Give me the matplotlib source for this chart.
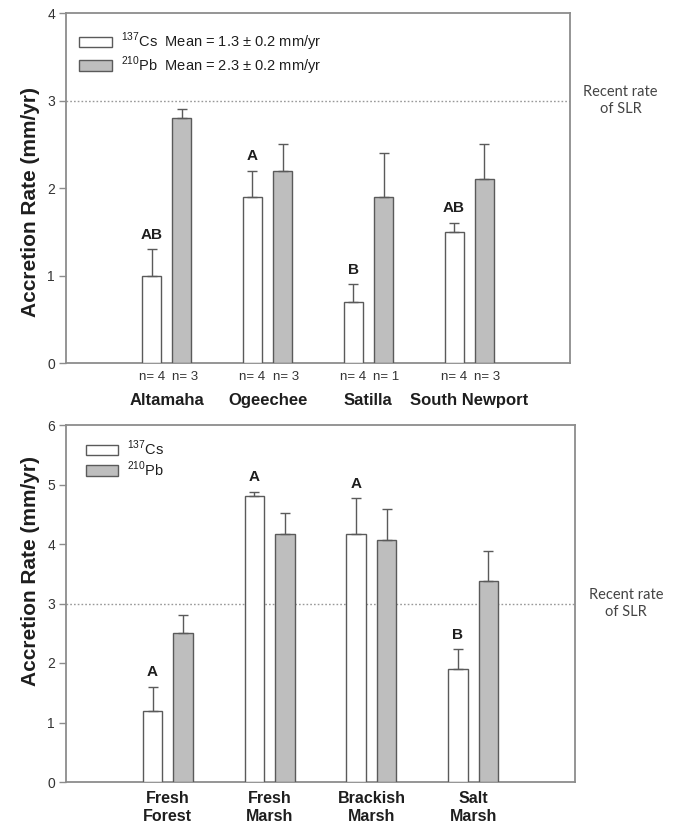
import matplotlib
matplotlib.use("Agg")
import matplotlib.pyplot as plt
import numpy as np
from matplotlib.patches import Patch

plt.rcParams['font.family'] = ['Liberation Sans', 'DejaVu Sans']
plt.rcParams['mathtext.fontset'] = 'custom'
plt.rcParams['mathtext.rm'] = 'Liberation Sans'

# ---- Top panel data ----
rivers = ["Altamaha", "Ogeechee", "Satilla", "South Newport"]
cs_top = [1.0, 1.9, 0.7, 1.5]
cs_top_err = [0.3, 0.3, 0.2, 0.1]
pb_top = [2.8, 2.2, 1.9, 2.1]
pb_top_err = [0.1, 0.3, 0.5, 0.4]
cs_top_letters = ["AB", "A", "B", "AB"]
n_cs = [4, 4, 4, 4]
n_pb = [3, 3, 1, 3]

# ---- Bottom panel data ----
habitats = ["Fresh\nForest", "Fresh\nMarsh", "Brackish\nMarsh", "Salt\nMarsh"]
cs_bot = [1.2, 4.8, 4.17, 1.9]
cs_bot_err = [0.4, 0.08, 0.6, 0.33]
pb_bot = [2.5, 4.17, 4.07, 3.37]
pb_bot_err = [0.31, 0.35, 0.52, 0.51]
cs_bot_letters = ["A", "A", "A", "B"]

slr_rate = 3.0

EDGE = "#5a5a5a"
GREY = "#bebebe"
SPINE = "#8c8c8c"
TXT = "#1e1e1e"

fig = plt.figure(figsize=(6.75, 8.24), dpi=100)
ax1 = fig.add_axes([66/675, 1-363/824, 504/675, 350/824])
ax2 = fig.add_axes([66/675, 1-782/824, 509/675, 357/824])

W = 0.19
OFF = 0.15


def draw(ax, cs, cse, pb, pbe, letters, ymax, label_y):
    x = np.arange(len(cs))
    ax.bar(x - OFF, cs, W, color="white", edgecolor=EDGE, linewidth=1.0, zorder=3)
    ax.bar(x + OFF, pb, W, color=GREY, edgecolor=EDGE, linewidth=1.0, zorder=3)
    ax.errorbar(x - OFF, cs, yerr=[np.zeros(len(cs)), cse], fmt="none",
                ecolor=EDGE, elinewidth=1.0, capsize=3.6, capthick=1.0, zorder=4)
    ax.errorbar(x + OFF, pb, yerr=[np.zeros(len(pb)), pbe], fmt="none",
                ecolor=EDGE, elinewidth=1.0, capsize=3.6, capthick=1.0, zorder=4)
    for xi, v, e, l in zip(x, cs, cse, letters):
        ax.annotate(l, (xi - OFF, v + e), xytext=(0, 5.5), textcoords="offset points",
                    ha="center", va="bottom", fontsize=11, fontweight="bold", color=TXT)
    ax.axhline(slr_rate, color="#999999", linestyle=(0, (1.2, 1.5)), linewidth=1.0, zorder=2)
    ax.set_xlim(-1, 4)
    ax.set_ylim(0, ymax)
    ax.set_yticks(range(ymax + 1))
    ax.set_xticks([])
    for s in ax.spines.values():
        s.set_color(SPINE)
        s.set_linewidth(1.3)
    ax.tick_params(axis="y", direction="out", length=5, width=1, color=SPINE,
                   labelsize=10, labelcolor="#333333", pad=3)
    ax.set_ylabel("Accretion Rate (mm/yr)", fontsize=15, fontweight="bold", color=TXT)
    ax.yaxis.set_label_coords(-0.052, label_y)
    ax.text(1.1, (slr_rate) / ymax, "Recent rate\nof SLR", transform=ax.transAxes,
            ha="center", va="center", fontsize=10.5, color="#444444",
            family=["Lato", "DejaVu Sans"], linespacing=1.3)
    return x


x1 = draw(ax1, cs_top, cs_top_err, pb_top, pb_top_err, cs_top_letters, 4, 0.46)
x2 = draw(ax2, cs_bot, cs_bot_err, pb_bot, pb_bot_err, cs_bot_letters, 6, 0.59)

# top x labels
for xi, nc, npb, name in zip(x1, n_cs, n_pb, rivers):
    ax1.annotate(f"n= {nc}", (xi - OFF, 0), xytext=(0, -10), textcoords="offset points",
                 ha="center", va="center", fontsize=9.5, color="#333333", annotation_clip=False)
    ax1.annotate(f"n= {npb}", (xi + OFF + 0.03, 0), xytext=(0, -10), textcoords="offset points",
                 ha="center", va="center", fontsize=9.5, color="#333333", annotation_clip=False)
    ax1.annotate(name, (xi, 0), xytext=(0, -27), textcoords="offset points",
                 ha="center", va="center", fontsize=12, fontweight="bold", color=TXT,
                 annotation_clip=False)

for xi, name in zip(x2, habitats):
    ax2.annotate(name, (xi, 0), xytext=(0, -18.5), textcoords="offset points",
                 ha="center", va="center", fontsize=11.5, fontweight="bold", color=TXT,
                 annotation_clip=False, linespacing=1.2)

# legends
h_cs = Patch(facecolor="white", edgecolor=EDGE, linewidth=1.0)
h_pb = Patch(facecolor=GREY, edgecolor=EDGE, linewidth=1.0)
leg1 = ax1.legend([h_cs, h_pb],
                  [r"$^{137}$Cs  Mean = 1.3 $\pm$ 0.2 mm/yr",
                   r"$^{210}$Pb  Mean = 2.3 $\pm$ 0.2 mm/yr"],
                  loc="upper left", bbox_to_anchor=(0.008, 0.975), frameon=False,
                  fontsize=10.5, handlelength=2.3, handleheight=0.7, handletextpad=0.6,
                  labelspacing=0.1, borderaxespad=0.2)
for t in leg1.get_texts():
    t.set_color(TXT)
leg2 = ax2.legend([h_cs, h_pb], [r"$^{137}$Cs", r"$^{210}$Pb"],
                  loc="upper left", bbox_to_anchor=(0.022, 0.985), frameon=False,
                  fontsize=10.5, handlelength=2.2, handleheight=0.7, handletextpad=0.6,
                  labelspacing=0.06, borderaxespad=0.2)
for t in leg2.get_texts():
    t.set_color(TXT)

fig.savefig("out.png", dpi=100)
